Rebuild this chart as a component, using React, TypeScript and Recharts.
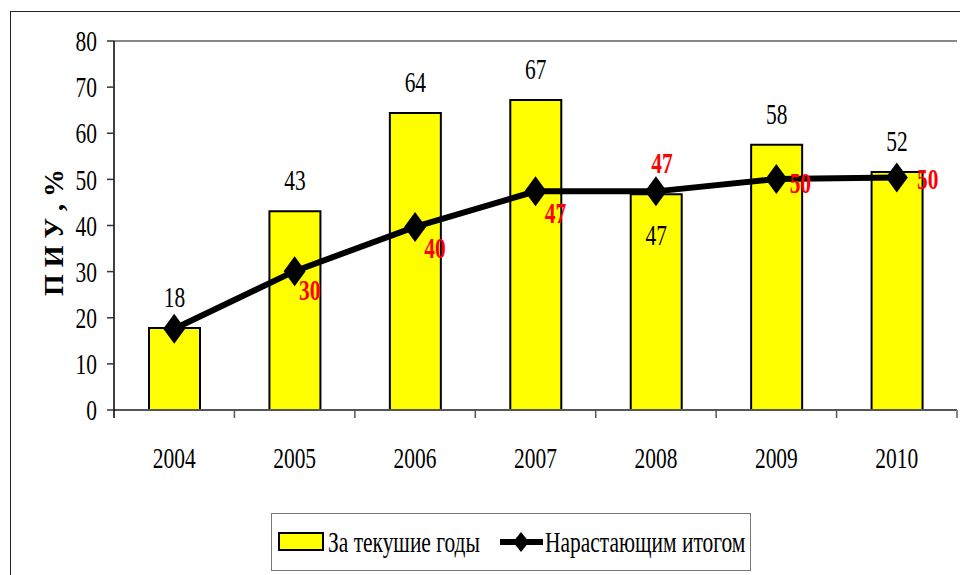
import { ComposedChart, Bar, Line, XAxis, YAxis, ReferenceLine, LabelList } from 'recharts'

const years = ['2004', '2005', '2006', '2007', '2008', '2009', '2010']
const currentYears = [17.8, 43.1, 64.4, 67.2, 46.8, 57.5, 51.6]
const cumulative = [17.6, 30.1, 39.7, 47.4, 47.4, 50.1, 50.4]
const yTicks = [0, 10, 20, 30, 40, 50, 60, 70, 80]
const barName = 'За текушие годы'
const lineName = 'Нарастающим итогом'
const yLabel = 'П И У , %'

const data = years.map((year, i) => ({ year, current: currentYears[i], cumulative: cumulative[i] }))

const FONT = "'Liberation Serif', 'DejaVu Serif', serif"
const SQUEEZE = 0.74

function SqText({ x, y, anchor = 'middle', fill = '#000', bold = false, size = 29, children }: any) {
  return (
    <g transform={`translate(${x},${y}) scale(${SQUEEZE},1)`}>
      <text x={0} y={0} dy="0.35em" textAnchor={anchor} fill={fill}
        style={{ fontFamily: FONT, fontSize: size, fontWeight: bold ? 700 : 400 }}>
        {children}
      </text>
    </g>
  )
}

function YTick({ x, y, payload }: any) {
  return <SqText x={x} y={y} anchor="end">{payload.value}</SqText>
}

function XTick({ x, y, payload, index, width, visibleTicksCount }: any) {
  const band = (width || 843) / (visibleTicksCount || 7)
  const last = index === (visibleTicksCount || 7) - 1
  return (
    <g>
      <line x1={x - band / 2} x2={x - band / 2} y1={y} y2={y + 8} stroke={index === 0 ? '#000' : '#555'} strokeWidth={1.5} />
      {last && <line x1={x + band / 2} x2={x + band / 2} y1={y} y2={y + 8} stroke="#888" strokeWidth={2} />}
      <SqText x={x} y={y + 48}>{payload.value}</SqText>
    </g>
  )
}

function Diamond({ cx, cy, w = 11, h = 15 }: any) {
  return <polygon points={`${cx},${cy - h} ${cx + w},${cy} ${cx},${cy + h} ${cx - w},${cy}`} fill="#000" />
}

// where Excel put the red labels around each marker
const cumLabelShift: Record<number, [number, number] | null> = {
  0: null,
  1: [15, 19],
  2: [20, 21],
  3: [20, 21],
  4: [6, -29],
  5: [24, 4],
  6: [31, 1],
}

function CumLabel({ x, y, value, index }: any) {
  const s = cumLabelShift[index]
  if (!s) return null
  return <SqText x={x + s[0]} y={y + s[1]} fill="#ff0000" bold>{Math.round(value)}</SqText>
}

function BarValue({ x, y, width, value, index }: any) {
  // 2008 label sits inside the bar, under the line label
  const cy = index === 4 ? y + 41 : y - 31
  return <SqText x={x + width / 2} y={cy}>{Math.round(value)}</SqText>
}

function AxisTitle({ viewBox }: any) {
  const cx = viewBox.x + 53
  const cy = viewBox.y + viewBox.height / 2 + 7
  return (
    <text x={cx} y={cy} transform={`rotate(-90, ${cx}, ${cy})`} textAnchor="middle" dy="0.35em" fill="#000"
      style={{ fontFamily: FONT, fontSize: 28, fontWeight: 700 }}>
      {yLabel}
    </text>
  )
}

export default function App() {
  return (
    <div style={{ position: 'fixed', left: 0, top: 0, width: 960, height: 575, overflow: 'hidden', background: '#fff' }}>
      <div style={{ position: 'absolute', left: 10, top: 11, width: 1200, height: 1000, border: '1.5px solid #222' }} />
      <div style={{ position: 'absolute', left: 0, top: 0 }}>
        <ComposedChart width={960} height={575} data={data} margin={{ top: 41, right: 3, left: 0, bottom: 105 }} barSize={51}>
          <XAxis dataKey="year" height={60} tickSize={0} tickMargin={0} tickLine={false}
            axisLine={{ stroke: '#555', strokeWidth: 2 }} tick={<XTick />} interval={0} />
          <YAxis domain={[0, 80]} ticks={yTicks} width={114} tickSize={7} tickMargin={10}
            axisLine={{ stroke: '#000', strokeWidth: 1.5 }} tickLine={{ stroke: '#333', strokeWidth: 1.5 }}
            tick={<YTick />} label={<AxisTitle />} />
          <YAxis yAxisId="frame" orientation="right" domain={[0, 80]} width={0} tick={false} tickLine={false}
            axisLine={{ stroke: '#888', strokeWidth: 2 }} />
          <ReferenceLine y={80} stroke="#888" strokeWidth={2} />
          <Bar dataKey="current" name={barName} fill="#ffff00" stroke="#000" strokeWidth={2} isAnimationActive={false}>
            <LabelList dataKey="current" content={<BarValue />} />
          </Bar>
          <Line dataKey="cumulative" name={lineName} type="linear" stroke="#000" strokeWidth={6}
            dot={(p: any) => <Diamond key={p.index} cx={p.cx} cy={p.cy} />} activeDot={false} isAnimationActive={false}>
            <LabelList dataKey="cumulative" content={<CumLabel />} />
          </Line>
        </ComposedChart>
      </div>
      <svg style={{ position: 'absolute', left: 271, top: 513 }} width={480} height={58}>
        <rect x={0.5} y={0.5} width={479} height={57} fill="#fff" stroke="#777" strokeWidth={1} />
        <rect x={8} y={20} width={44} height={17} fill="#ffff00" stroke="#000" strokeWidth={2} />
        <SqText x={57} y={29} anchor="start">{barName}</SqText>
        <line x1={229} x2={272} y1={29} y2={29} stroke="#000" strokeWidth={6} />
        <Diamond cx={250} cy={29} w={8} h={10} />
        <SqText x={274} y={29} anchor="start">{lineName}</SqText>
      </svg>
    </div>
  )
}
